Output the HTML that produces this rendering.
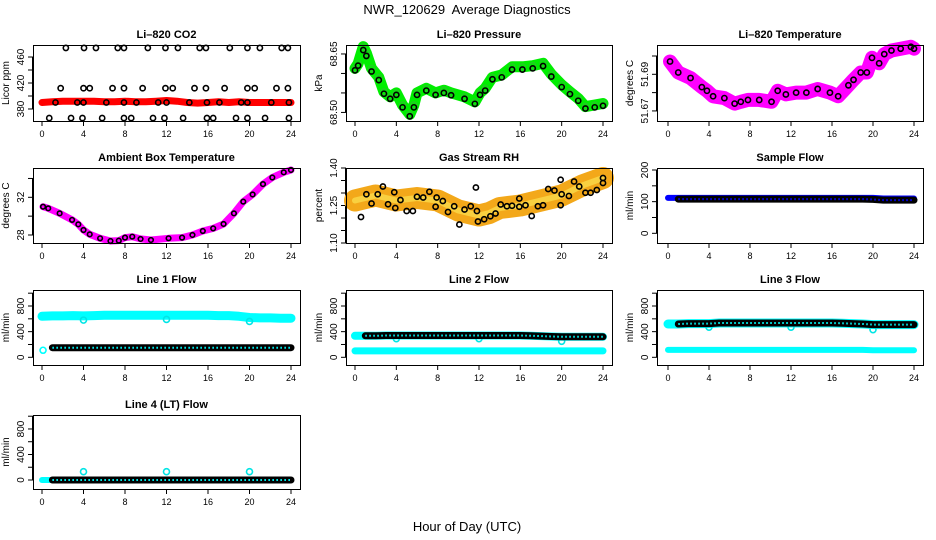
<!DOCTYPE html>
<html><head><meta charset="utf-8"><style>
html,body{margin:0;padding:0;background:#fff;}
svg{display:block;font-family:"Liberation Sans",sans-serif;}
</style></head><body>
<svg id="c" width="936" height="540" viewBox="0 0 936 540" xmlns="http://www.w3.org/2000/svg">
<text x="467" y="14" font-size="13" text-anchor="middle" xml:space="preserve" style="white-space:pre">NWR_120629  Average Diagnostics</text>
<text x="467" y="531" font-size="13" text-anchor="middle">Hour of Day (UTC)</text>
</svg>
<script>
const HOURS = [0,1,2,3,4,5,6,7,8,9,10,11,12,13,14,15,16,17,18,19,20,21,22,23,24];
const xTicks = [0,4,8,12,16,20,24];

// CO2
const co2Red = [390,391,392,392,392,392,391,391,392,391,391,392,393,392,390,389,390,391,390,391,390,390,390,390,390];
const co2BlackH = [2.3,4.05,5.2,7.3,7.9,10.2,11.9,13.1,15.2,15.8,18.1,19.8,21,23.1,23.7,
 1.8,4,4.6,6.8,7.9,9.7,11.9,12.6,14.7,15.8,17.6,19.8,20.5,22.6,23.7,
 1.3,3.4,4,6.2,7.9,9.1,11.2,12,14.2,15.9,17.1,19.2,19.8,22.1,23.8,
 0.7,2.8,3.9,5.8,7.9,8.6,10.7,11.8,13.6,15.9,16.5,18.7,19.8,21.5,23.8];
const co2BlackV = [474,474,474,474,474,474,474,474,474,474,474,474,474,474,474,
 412,412,412,412,412,412,412,412,412,412,412,412,412,412,412,
 390,390,390,390,390,390,390,390,390,390,390,390,390,390,390,
 366,366,366,366,366,366,366,366,366,366,366,366,366,366,366];

// Pressure
const presH = [0,0.3,0.8,1.1,1.6,2.3,2.8,3.4,4,4.6,5.3,5.7,6,6.9,7.8,8.6,9.3,10.6,11.6,12.1,12.6,13.3,14.2,15.2,16.2,17.2,18.2,19,20,20.8,21.6,22.3,23.2,24];
const presV = [68.613,68.625,68.669,68.652,68.613,68.59,68.553,68.54,68.55,68.519,68.495,68.519,68.55,68.562,68.55,68.557,68.55,68.54,68.527,68.55,68.562,68.59,68.596,68.617,68.617,68.62,68.626,68.598,68.571,68.553,68.536,68.515,68.519,68.523];
const presBlkV = [68.608,68.62,68.66,68.645,68.605,68.583,68.548,68.535,68.545,68.513,68.49,68.513,68.545,68.556,68.545,68.55,68.544,68.535,68.522,68.545,68.556,68.585,68.59,68.61,68.61,68.613,68.619,68.592,68.565,68.547,68.53,68.51,68.513,68.517];

// Li-820 temperature
const tempH = [0.2,1,2.2,3.3,3.8,4.4,5.5,6.5,7.1,7.8,8.9,10.1,10.7,11.5,12.5,13.5,14.6,15.8,16.6,17.6,18.1,18.8,19.4,19.9,20.6,21.1,21.8,22.7,23.7,24];
const tempV = [51.697,51.691,51.688,51.683,51.681,51.678,51.677,51.674,51.675,51.676,51.676,51.675,51.681,51.679,51.68,51.68,51.682,51.68,51.678,51.684,51.687,51.691,51.691,51.699,51.696,51.701,51.703,51.704,51.705,51.704];

// Ambient box temperature
const ambH = [0.1,0.6,1.7,2.9,3.5,4,4.6,5.6,6.6,7.4,8,8.7,9.5,10.5,12.2,13.5,14.5,15.5,16.5,17.5,18.5,19.4,20.3,21.3,22.2,23.3,24];
const ambV = [31.0,30.83,30.3,29.6,29.13,28.53,28.07,27.65,27.36,27.4,27.72,27.82,27.58,27.47,27.65,27.72,28.0,28.42,28.7,29.17,30.3,31.54,32.3,33.4,34.1,34.65,34.9];

// RH
const rhBandH = [0,2,4,6,8,10,12,13,14,16,18,20,22,24];
const rhBandV = [1.27,1.29,1.27,1.28,1.27,1.23,1.21,1.22,1.24,1.25,1.27,1.29,1.33,1.36];
const rhH = [0.58,1.1,1.6,2.2,2.7,3.2,3.9,3.8,4.4,5,5.6,6,6.6,7.2,7.8,7.9,8.5,9,9.6,10.1,10.6,11.2,11.7,11.8,11.9,12.5,13.1,13.6,14.1,14.7,15.2,15.9,15.9,16.5,17.1,17.7,18.2,18.7,19.3,19.9,20,19.9,20.7,21.2,21.7,22.3,22.8,23.4,24,24];
const rhV = [1.204,1.295,1.258,1.295,1.326,1.255,1.24,1.303,1.272,1.228,1.228,1.285,1.282,1.305,1.245,1.282,1.268,1.224,1.247,1.174,1.234,1.247,1.322,1.228,1.186,1.195,1.207,1.218,1.254,1.247,1.249,1.278,1.245,1.251,1.208,1.247,1.251,1.316,1.31,1.353,1.295,1.251,1.288,1.346,1.326,1.301,1.301,1.312,1.36,1.34];

// Flows (hourly)
const sampleBlue = [112,112,112,112,112,112,112,112,112,112,112,112,112,112,112,112,112,112,112,112,112,110,110,110,110];
const sampleBlack = [108,108,108,108,108,108,108,108,108,108,108,108,108,108,108,108,108,108,108,108,107,105,105,105,105];
const line1CyanHi = [640,645,645,650,645,650,655,655,655,655,655,655,655,655,655,655,655,650,650,640,620,615,615,610,610];
const line1Black = [150,150,150,150,150,150,150,150,150,150,150,150,150,150,150,150,150,150,150,150,150,150,150,150,150];
const line2Black = [335,335,335,340,340,340,340,340,340,340,340,340,340,340,340,340,340,335,330,325,320,320,320,320,320];
const line2CyanLo = [100,100,100,100,100,100,100,100,100,100,100,100,100,100,100,100,100,100,100,100,100,100,100,100,100];
const line3Black = [520,520,525,525,525,535,535,535,535,535,535,535,535,535,535,535,535,530,525,520,510,510,510,510,510];
const line3CyanLo = [115,115,115,115,115,115,115,115,115,115,115,115,115,115,115,115,115,115,115,115,110,110,110,110,110];
const line4Black = [0,0,0,0,0,0,0,0,0,0,0,0,0,0,0,0,0,0,0,0,0,0,0,0,0];
const spikeH = [4,12,20];
const line1Dips = [580,590,560];
const line2Dips = [290,290,250];
const line3Dips = [470,470,430];
const line4Spikes = [130,130,130];

const svg = document.getElementById('c');
const NS = 'http://www.w3.org/2000/svg';
function mk(tag, attrs, parent){
  const e = document.createElementNS(NS, tag);
  for (const k in attrs) e.setAttribute(k, attrs[k]);
  (parent||svg).appendChild(e);
  return e;
}
const cols = [{x0:33,x1:300,h0:42,h24:291},{x0:346,x1:612,h0:355,h24:603},{x0:657,x1:923,h0:668,h24:914}];
const rows = [{y0:45,y1:121},{y0:168,y1:243},{y0:290,y1:365},{y0:415,y1:489}];

function panel(name, ci, ri, title, ylab, vTop, vBot, ticks, labels){
  const c = cols[ci], r = rows[ri];
  const g = mk('g', {});
  
  
  const sx = h => c.h0 + (c.h24 - c.h0) * h / 24;
  const sy = v => r.y0 + (vTop - v) / (vTop - vBot) * (r.y1 - r.y0);
  const t = mk('text', {x:(c.x0+c.x1)/2, y:r.y0-7, 'font-size':11, 'font-weight':'bold', 'text-anchor':'middle'}, g);
  t.textContent = title;
  
  
  const yl = mk('text', {x:0, y:0, 'font-size':10, 'text-anchor':'middle', transform:`translate(${c.x0-24},${(r.y0+r.y1)/2}) rotate(-90)`}, g);
  yl.textContent = ylab;
  
  
  const ax = mk('g', {stroke:'#000','stroke-width':1}, g);
  
  
  ticks.forEach((v,i)=>{
    const y = sy(v);
    mk('line', {x1:c.x0-5, x2:c.x0, y1:y, y2:y}, ax);
    if (labels[i] !== '') {
      const tl = mk('text', {x:0,y:0,'font-size':10,'text-anchor':'middle',stroke:'none',transform:`translate(${c.x0-9},${y}) rotate(-90)`}, g);
      tl.textContent = labels[i];
      
      
    }
  });
  mk('line', {x1:c.x0-0.5, x2:c.x0-0.5, y1:sy(ticks[0]), y2:sy(ticks[ticks.length-1])}, ax);
  xTicks.forEach(h=>{
    mk('line', {x1:sx(h), x2:sx(h), y1:r.y1, y2:r.y1+5}, ax);
    const tl = mk('text', {x:sx(h), y:r.y1+16, 'font-size':9, 'text-anchor':'middle', stroke:'none'}, g);
    tl.textContent = h;
    
    
  });
  const plot = mk('g', {}, g);
  
  
  mk('rect', {x:c.x0+0.5, y:r.y0+0.5, width:c.x1-c.x0, height:r.y1-r.y0, fill:'none', stroke:'#000'}, g);
  return {sx, sy, plot};
}
function band(p, H, V, color, w, name){
  const pts = H.map((h,i)=>p.sx(h).toFixed(1)+','+p.sy(V[i]).toFixed(1)).join(' ');
  const e = mk('polyline', {points:pts, fill:'none', stroke:color, 'stroke-width':w, 'stroke-linecap':'round', 'stroke-linejoin':'round'}, p.plot);
  
  
}
function circles(p, H, V, color, name, r){
  H.forEach((h,i)=>{
    const e = mk('circle', {cx:p.sx(h), cy:p.sy(V[i]), r:r||2.6, fill:'none', stroke:color, 'stroke-width':1.6}, p.plot);
    
    
  });
}
function chain(p, H, V, inner, name){
  band(p, H, V, '#000', 7, name);
  const pts = H.map((h,i)=>p.sx(h).toFixed(1)+','+p.sy(V[i]).toFixed(1)).join(' ');
  const e = mk('polyline', {points:pts, fill:'none', stroke:inner, 'stroke-width':2, 'stroke-dasharray':'1.5 2.5'}, p.plot);
  
  
}

// 1 CO2
let p = panel('co2', 0, 0, 'Li\u2013820 CO2', 'Licor ppm', 478.5, 361.5, [380,400,420,440,460], ['380','','420','','460']);
band(p, HOURS, co2Red, '#ff0000', 7, 'co2-red-series');
circles(p, co2BlackH, co2BlackV, '#000', 'co2-black-point');

// 2 Pressure
p = panel('pressure', 1, 0, 'Li\u2013820 Pressure', 'kPa', 68.673, 68.478, [68.50,68.55,68.60,68.65], ['68.50','','','68.65']);
band(p, presH, presV, '#00ee00', 11, 'pressure-green-series');
circles(p, presH, presV, '#22cc22', 'pressure-green-point', 3);
circles(p, presH, presBlkV, '#000', 'pressure-black-point');

// 3 Temperature
p = panel('li820-temp', 2, 0, 'Li\u2013820 Temperature', 'degrees C', 51.706, 51.6645, [51.67,51.68,51.69,51.70], ['51.67','','51.69','']);
band(p, tempH, tempV, '#ff00ff', 14, 'li820-temp-magenta-series');
circles(p, tempH, tempV, '#000', 'li820-temp-black-point');

// 4 Ambient
p = panel('ambient', 0, 1, 'Ambient Box Temperature', 'degrees C', 35.11, 27.15, [28,30,32,34], ['28','','32','']);
band(p, ambH, ambV, '#ff00ff', 7, 'ambient-magenta-series');
circles(p, ambH, ambV, '#000', 'ambient-black-point', 2.3);

// 5 RH
p = panel('rh', 1, 1, 'Gas Stream RH', 'percent', 1.40, 1.10, [1.10,1.15,1.20,1.25,1.30,1.35,1.40], ['1.10','','','1.25','','','1.40']);
band(p, rhBandH, rhBandV, '#f3a81a', 22, 'rh-orange-series');
band(p, rhBandH, rhBandV, '#f9d040', 6, 'rh-yellow-core');
circles(p, rhH, rhV, '#000', 'rh-black-point');

// 6 Sample flow
p = panel('sample-flow', 2, 1, 'Sample Flow', 'ml/min', 206.3, -30.6, [0,50,100,150,200], ['0','','100','','200']);
band(p, HOURS, sampleBlue, '#0000ff', 6, 'sample-flow-blue-series');
chain(p, HOURS.slice(1), sampleBlack.slice(1), '#0000ff', 'sample-flow-black-series');

const flowTicks = [0,200,400,600,800,1000], flowLabels = ['0','','400','','800',''];
// 7 Line 1
p = panel('line1-flow', 0, 2, 'Line 1 Flow', 'ml/min', 1049.6, -120, flowTicks, flowLabels);
band(p, HOURS, line1CyanHi, '#00ffff', 9, 'line1-cyan-series');
circles(p, spikeH, line1Dips, '#00e5e5', 'line1-cyan-dip', 3);
chain(p, HOURS.slice(1), line1Black.slice(1), '#00ffff', 'line1-black-series');
circles(p, [0.1], [110], '#00ffff', 'line1-cyan-start', 3);

// 8 Line 2
p = panel('line2-flow', 1, 2, 'Line 2 Flow', 'ml/min', 1049.6, -120, flowTicks, flowLabels);
band(p, HOURS, line2CyanLo, '#00ffff', 7, 'line2-cyan-low-series');
band(p, HOURS, line2Black, '#00ffff', 8, 'line2-cyan-high-series');
circles(p, spikeH, line2Dips, '#00e5e5', 'line2-cyan-dip', 3);
chain(p, HOURS.slice(1), line2Black.slice(1), '#00ffff', 'line2-black-series');

// 9 Line 3
p = panel('line3-flow', 2, 2, 'Line 3 Flow', 'ml/min', 1049.6, -120, flowTicks, flowLabels);
band(p, HOURS, line3CyanLo, '#00ffff', 6, 'line3-cyan-low-series');
band(p, HOURS, line3Black, '#00ffff', 9, 'line3-cyan-high-series');
circles(p, spikeH, line3Dips, '#00e5e5', 'line3-cyan-dip', 3);
chain(p, HOURS.slice(1), line3Black.slice(1), '#00ffff', 'line3-black-series');

// 10 Line 4
p = panel('line4-flow', 0, 3, 'Line 4 (LT) Flow', 'ml/min', 1019, -141, flowTicks, flowLabels);
band(p, HOURS, line4Black, '#00ffff', 6, 'line4-cyan-series');
chain(p, HOURS.slice(1), line4Black.slice(1), '#00ffff', 'line4-black-series');
circles(p, spikeH, line4Spikes, '#00e5e5', 'line4-cyan-spike', 3);
</script>
</body></html>
